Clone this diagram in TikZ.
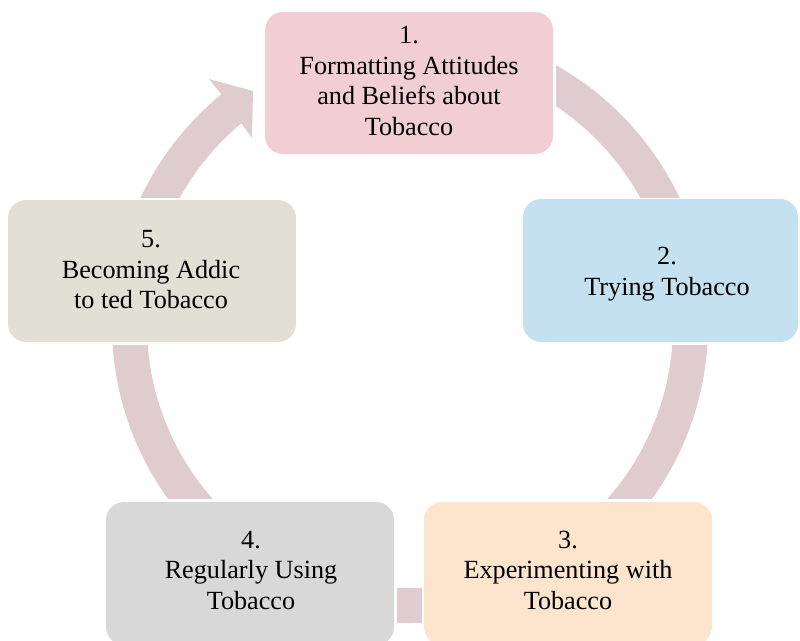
\documentclass[tikz,border=0pt]{standalone}
\usepackage{fontspec}
\setmainfont{Liberation Serif}
\definecolor{ringcol}{RGB}{222,204,206}
\definecolor{cone}{RGB}{240,206,211}
\definecolor{ctwo}{RGB}{197,224,241}
\definecolor{cthree}{RGB}{252,228,205}
\definecolor{cfour}{RGB}{216,216,216}
\definecolor{cfive}{RGB}{226,223,212}
\begin{document}
\begin{tikzpicture}[x=1pt,y=-1pt,
  ringfill/.style={fill=ringcol},
  stagebox/.style={rounded corners=18pt, inner sep=0pt, draw=none},
  lbl/.style={align=center, inner sep=0pt, font=\fontsize{26.2}{30.5}\selectfont, text=black}]
\useasboundingbox (0,0) rectangle (800,640);
\clip (0,0) rectangle (800,640);
\coordinate (C) at (410,325);

% ring segments
\begin{scope}
  \clip (0,345) rectangle (800,498);
  \fill[ringfill, even odd rule] (C) circle[radius=298] (C) circle[radius=263];
\end{scope}
\begin{scope}
  \clip (397,560) rectangle (422,640);
  \fill[ringfill, even odd rule] (C) circle[radius=298] (C) circle[radius=263];
\end{scope}
\begin{scope}
  \clip (556,0) rectangle (800,197);
  \fill[ringfill, even odd rule] (C) circle[radius=298] (C) circle[radius=263];
\end{scope}
\begin{scope}
  \clip (0,0) rectangle (800,197);
  \fill[ringfill] ([shift={(-160:298)}]C) arc[start angle=-160, end angle=-129.3, radius=298]
    -- (209,79) -- (253,91) -- (252,138)
    -- ([shift={(-129.9:263)}]C) arc[start angle=-129.9, end angle=-160, radius=263] -- cycle;
\end{scope}

% stage boxes
\node[stagebox, fill=cone, minimum width=288pt, minimum height=142pt] (b1) at (409,83) {};
\node[stagebox, fill=ctwo, minimum width=275pt, minimum height=143pt] (b2) at (660.5,270.5) {};
\node[stagebox, fill=cthree, minimum width=288pt, minimum height=143pt] (b3) at (568,573.5) {};
\node[stagebox, fill=cfour, minimum width=288pt, minimum height=143pt] (b4) at (250,573.5) {};
\node[stagebox, fill=cfive, minimum width=288pt, minimum height=142pt] (b5) at (152,271) {};

% labels
\node[lbl] (t1) at (409,81) {1.\\Formatting Attitudes\\and Beliefs about\\Tobacco};
\node[lbl] (t2) at (667,274) {2.\\Trying Tobacco};
\node[lbl] (t3) at (568,570) {3.\\Experimenting with\\Tobacco};
\node[lbl] (t4) at (251,570) {4.\\Regularly Using\\Tobacco};
\node[lbl] (t5) at (151,270) {5.\\Becoming Addic\\to ted Tobacco};
\end{tikzpicture}
\end{document}
